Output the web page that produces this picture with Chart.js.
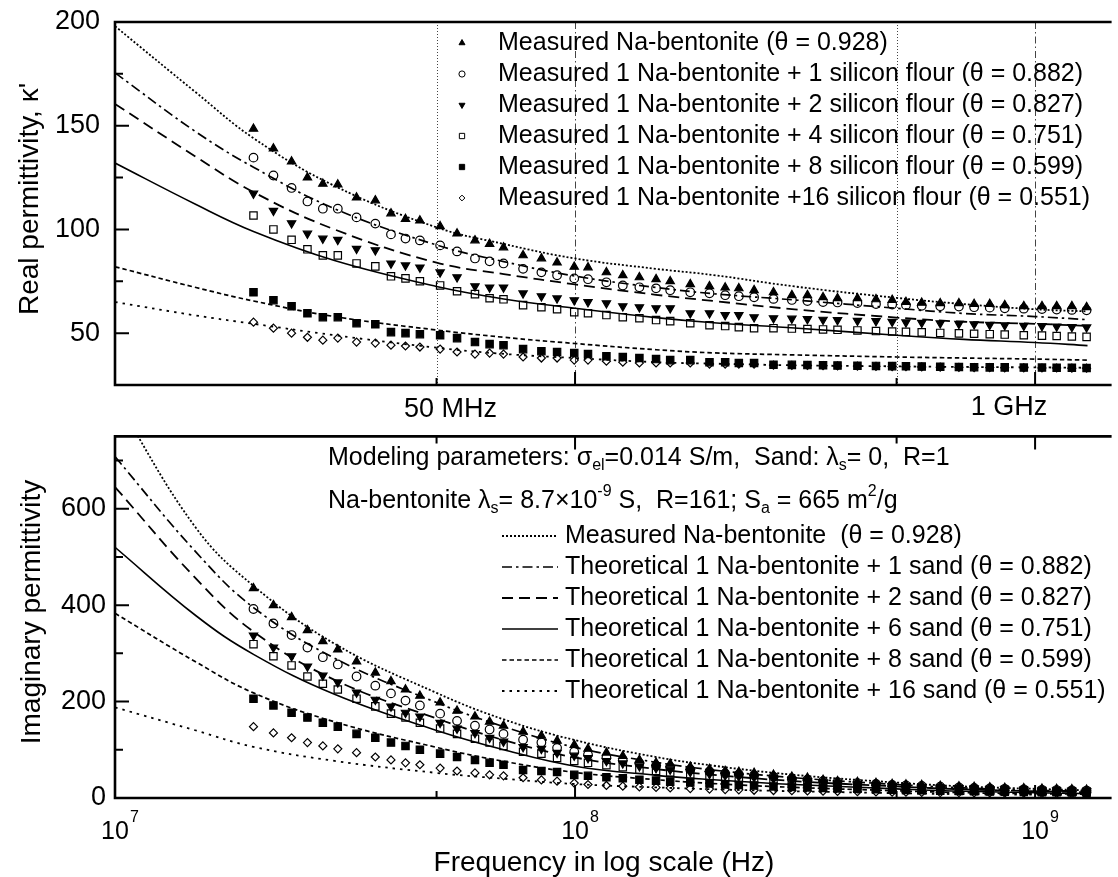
<!DOCTYPE html>
<html>
<head>
<meta charset="utf-8">
<script src="https://cdn.jsdelivr.net/npm/chart.js@4.4.1/dist/chart.umd.min.js"></script>
<style>
  html, body { margin: 0; padding: 0; background: #fff; overflow: hidden; }
  #wrap { position: relative; width: 1118px; height: 877px; }
  canvas { position: absolute; left: 0; }
  #realChart { top: 0; }
  #imagChart { top: 430px; }
</style>
</head>
<body>
<div id="wrap">
  <canvas id="realChart" width="1118" height="430"></canvas>
  <canvas id="imagChart" width="1118" height="447"></canvas>
</div>
<script>
// ─────────────────────────────
// Data
// ─────────────────────────────
// measured frequencies (MHz)
const measFreqMHz = [20, 22.1, 24.2, 26.2, 28.3, 30.5, 33.5, 36.8, 39.8, 42.8, 46, 50.9, 55.4, 60.6, 65.2, 69.9, 77.1, 84.5, 91.4, 99.6,
  106.7, 117, 127, 138, 150, 161, 178, 196, 212, 227, 245, 270, 296, 320, 346, 372, 411, 451, 489, 524,
  567, 622, 683, 737, 797, 859, 945, 1035, 1114, 1202, 1294];
// frequencies of the model curves (MHz)
const theoFreqMHz = [10, 15, 20, 30, 50, 70, 100, 150, 200, 300, 500, 700, 1000, 1300];

// real permittivity, measured
const realMeas0928 = [148.5, 139, 132.7, 125, 122, 121.6, 115.4, 114, 107.7, 105, 104.3, 101.5, 98, 94.7, 93, 91.3, 87.5, 86, 84, 82,
  81.7, 79.3, 77.9, 76.9, 76, 75, 73.6, 72.6, 72, 71.6, 70.7, 69.7, 68.3, 68.3, 67.3, 66.8, 66.8, 66.3, 66, 65,
  64.6, 64.4, 64.4, 64, 64, 63.5, 63, 63, 63, 63, 62.5];
const realMeas0882 = [134.6, 126, 120, 113.5, 110, 110, 105.8, 102.8, 97.6, 95.6, 94.7, 92.3, 89.4, 86, 84.6, 83.6, 81, 79.3, 77.9, 76.4,
  76, 74.5, 73, 72.1, 71.6, 70.7, 69.7, 69.2, 68.3, 67.8, 67.3, 66.5, 66, 65.5, 65, 64.8, 64.5, 64, 63.8, 63.5,
  63.2, 63, 62.8, 62.5, 62.3, 62, 61.8, 61.6, 61.4, 61.2, 61];
const realMeas0827 = [117.3, 109, 103, 98, 95.6, 95, 90.7, 90, 83.6, 82.7, 81.7, 79.3, 77, 72.6, 72, 72, 69.2, 67.8, 66.8, 65.9,
  65, 64.4, 63, 62.5, 62, 62, 59.6, 59.6, 58.7, 58.7, 57.7, 57.2, 57, 56.8, 56.5, 56.3, 56, 55.8, 55.5, 55.2,
  55, 54.8, 54.5, 54.3, 54, 53.8, 53.6, 53.4, 53.2, 53, 52.8];
const realMeas0751 = [106.7, 100, 95, 90.4, 87.5, 87.5, 83.6, 82.2, 77.4, 76.4, 75, 73, 70.2, 68.8, 66.8, 66.3, 63.5, 62.5, 61.5, 60.1,
  59.6, 58.7, 57.7, 57.2, 56.3, 55.8, 54.8, 53.8, 53.4, 52.9, 52.4, 52.4, 52.2, 52, 51.8, 51.6, 51.3, 51, 50.8, 50.6,
  50.4, 50.1, 49.9, 49.7, 49.5, 49.3, 49, 48.8, 48.6, 48.4, 48.2];
const realMeas0599 = [69.7, 65.9, 63, 59.6, 57.7, 57.7, 54.8, 54.3, 50.5, 50, 49.5, 49, 47.6, 45.7, 44.7, 44.2, 42.3, 41.3, 40.9, 40.4,
  39.9, 38.9, 38.5, 38, 37.5, 37, 37, 36, 36, 35.6, 35.6, 34.8, 34.7, 34.6, 34.5, 34.4, 34.3, 34.2, 34.1, 34,
  33.9, 33.8, 33.7, 33.6, 33.5, 33.5, 33.4, 33.4, 33.3, 33.3, 33.2];
const realMeas0551 = [55.3, 52.4, 50, 48, 46.6, 47.6, 45.7, 45.2, 44.2, 43.8, 43.3, 42.3, 40.9, 39.9, 40.4, 39.9, 38.5, 38, 38, 37,
  37, 36.5, 36, 35.6, 35.6, 35.6, 35.6, 35.1, 35.1, 35.1, 35.1, 34.6, 34.5, 34.4, 34.3, 34.2, 34.1, 34, 33.9, 33.8,
  33.7, 33.6, 33.5, 33.4, 33.4, 33.3, 33.3, 33.2, 33.2, 33.1, 33.1];

// real permittivity, model curves
const realTheo0928 = [198, 166, 144, 121, 101, 93, 86, 81, 78, 72.5, 67, 64, 61.5, 60.5];
const realTheo0882 = [175.5, 147, 130, 110, 92.5, 84.5, 77.5, 72, 69, 66, 62, 59.5, 58, 56.5];
const realTheo0827 = [160.5, 135, 118, 100, 84, 78.5, 73.5, 68.5, 65.5, 61.5, 57.5, 55.5, 54.5, 53.5];
const realTheo0751 = [132, 112, 99, 85, 72.5, 66.5, 62, 57.5, 55, 52.5, 49, 47, 45.5, 44];
const realTheo0599 = [82, 72, 65.5, 58, 51.5, 48, 45, 42, 40.5, 39.5, 38.5, 38, 37.5, 37];
const realTheo0551 = [65, 58.5, 54.5, 49, 43, 40, 38, 36, 35.3, 34.5, 34, 33.7, 33.5, 33.3];

// imaginary permittivity, measured
const imagMeas0928 = [435, 400, 375, 348, 325, 308, 283, 260, 242, 225, 212, 198, 181, 169, 158, 150, 137.5, 129, 119, 110,
  102, 94, 87, 79, 73, 71, 65, 60, 56, 54, 52, 48, 44, 42, 37.5, 35, 33, 31, 29, 28,
  27, 25, 24, 23, 22, 21, 20, 19, 18.5, 18, 17];
const imagMeas0882 = [392, 362, 338, 312, 292, 277, 252, 233, 217, 202, 192, 175, 160, 150, 142, 133, 121, 115, 104, 96,
  90, 84, 78, 72, 67, 64, 59, 55, 51, 49, 47, 44, 40, 38, 35, 33, 31, 29, 27, 26,
  25, 23.5, 22, 21, 20, 19, 18, 17, 16.5, 16, 15.5];
const imagMeas0827 = [337, 312, 294, 273, 254, 240, 219, 204, 190, 177, 169, 156, 144, 135, 125, 117, 106, 102, 94, 88,
  83, 77, 72, 66, 62, 59, 54, 50, 47, 45, 43, 40, 37, 35, 32, 30, 28, 26.5, 25, 24,
  23, 21.5, 20.5, 19.5, 18.5, 18, 17, 16, 15.5, 15, 14.5];
const imagMeas0751 = [319, 294, 275, 252, 237, 225, 206, 190, 175, 167, 156, 144, 133, 123, 115, 108, 96, 92, 83, 77,
  73, 68, 64, 59, 56, 53, 49, 45, 43, 41, 39, 36, 33.5, 32, 29.5, 28, 26, 24.5, 23, 22,
  21, 20, 19, 18, 17.5, 17, 16, 15, 14.5, 14, 13.5];
const imagMeas0599 = [206, 192, 177, 167, 156, 148, 133, 125, 115, 108, 100, 92, 85, 79, 73, 69, 58, 56, 54, 48,
  46, 43, 41, 38, 36, 34, 32, 30, 28, 27, 26, 24, 23, 22, 21, 20, 19, 18, 17, 16.5,
  16, 15, 14.5, 14, 13.5, 13, 12.5, 12, 12, 11.5, 11];
const imagMeas0551 = [148, 135, 125, 115, 108, 102, 94, 85, 79, 73, 69, 62, 56, 52, 48, 46, 42, 37.5, 35, 31,
  28, 26, 24.5, 23, 22, 21, 19.5, 18.5, 17.5, 17, 16, 15.5, 15, 14.5, 14, 13.5, 13, 12.5, 12, 12,
  11.5, 11, 11, 10.5, 10.5, 10, 10, 9.5, 9.5, 9, 9];

// imaginary permittivity, model curves
const imagTheo0928 = [830, 560, 440, 320, 218, 163, 120, 85, 67, 48, 32, 24, 19, 16];
const imagTheo0882 = [708, 510, 395, 290, 198, 148, 105, 74, 58, 42, 28, 21, 16, 14];
const imagTheo0827 = [645, 455, 345, 245, 165, 120, 84, 60, 48, 35, 24, 18, 14, 12];
const imagTheo0751 = [520, 378, 298, 215, 140, 100, 66, 47, 38, 28, 19, 14, 11, 9];
const imagTheo0599 = [383, 282, 218, 158, 105, 76, 53, 38, 30, 22, 15, 11, 9, 8];
const imagTheo0551 = [188, 140, 106, 77, 52, 40, 29, 22, 18, 14, 10, 8, 7, 6];

// axes
const xRange = [1e7, 1.4666e9];
const xMajorTicks = [1e7, 1e8, 1e9];
const xMinorTicks = [5e7, 5e8];
const realYRange = [25, 200];
const realYLabels = [50, 100, 150, 200];
const realYMinor = [75, 125, 175];
const imagYRange = [0, 750];
const imagYLabels = [0, 200, 400, 600];
const imagYMinor = [100, 300, 500, 700];

const realLegend = [
  'Measured Na-bentonite (\u03b8 = 0.928)',
  'Measured 1 Na-bentonite + 1 silicon flour (\u03b8 = 0.882)',
  'Measured 1 Na-bentonite + 2 silicon flour (\u03b8 = 0.827)',
  'Measured 1 Na-bentonite + 4 silicon flour (\u03b8 = 0.751)',
  'Measured 1 Na-bentonite + 8 silicon flour (\u03b8 = 0.599)',
  'Measured 1 Na-bentonite +16 silicon flour (\u03b8 = 0.551)'
];
const imagLegend = [
  'Measured Na-bentonite  (\u03b8 = 0.928)',
  'Theoretical 1 Na-bentonite + 1 sand (\u03b8 = 0.882)',
  'Theoretical 1 Na-bentonite + 2 sand (\u03b8 = 0.827)',
  'Theoretical 1 Na-bentonite + 6 sand (\u03b8 = 0.751)',
  'Theoretical 1 Na-bentonite + 8 sand (\u03b8 = 0.599)',
  'Theoretical 1 Na-bentonite + 16 sand (\u03b8 = 0.551)'
];

// ─────────────────────────────
// Styles
// ─────────────────────────────
const FONT = '"Liberation Sans", Arial, sans-serif';
const markers = [
  { style: 'triangle', rot: 0, r: 4.8, fill: true },
  { style: 'circle', rot: 0, r: 4.3, fill: false },
  { style: 'triangle', rot: 180, r: 4.8, fill: true },
  { style: 'rect', rot: 0, r: 5.2, fill: false },
  { style: 'rect', rot: 0, r: 5.2, fill: true },
  { style: 'rectRot', rot: 0, r: 4, fill: false }
];
const dashes = [[2, 2], [10, 4, 2.5, 4], [11, 6], [], [4.5, 3], [2.5, 5]];
const widths = [1.8, 1.7, 1.8, 1.6, 1.7, 1.8];

const hz = f => f * 1e6;
const toPoints = (freqs, vals) => vals.map((v, i) => ({ x: hz(freqs[i]), y: v }));

function buildDatasets(meas, theo) {
  const sets = [];
  theo.forEach((vals, i) => {
    sets.push({
      data: toPoints(theoFreqMHz, vals),
      showLine: true,
      borderColor: '#000',
      borderWidth: widths[i],
      borderDash: dashes[i],
      pointRadius: 0,
      tension: 0.4,
      fill: false
    });
  });
  meas.forEach((vals, i) => {
    const m = markers[i];
    sets.push({
      data: toPoints(measFreqMHz, vals),
      showLine: false,
      pointStyle: m.style,
      rotation: m.rot,
      pointRadius: m.r,
      pointBorderWidth: 1.2,
      pointBorderColor: '#000',
      pointBackgroundColor: m.fill ? '#000' : 'rgba(0,0,0,0)'
    });
  });
  return sets;
}

// ─────────────────────────────
// Drawing helpers
// ─────────────────────────────
function drawMarker(ctx, m, x, y, r) {
  ctx.save();
  ctx.beginPath();
  if (m.style === 'circle') {
    ctx.arc(x, y, r, 0, Math.PI * 2);
  } else if (m.style === 'triangle') {
    let a = m.rot * Math.PI / 180;
    ctx.moveTo(x + Math.sin(a) * r, y - Math.cos(a) * r);
    for (let k = 1; k < 3; k++) {
      a += Math.PI * 2 / 3;
      ctx.lineTo(x + Math.sin(a) * r, y - Math.cos(a) * r);
    }
    ctx.closePath();
  } else if (m.style === 'rect') {
    const s = Math.SQRT1_2 * r;
    ctx.rect(x - s, y - s, 2 * s, 2 * s);
  } else {
    ctx.moveTo(x - r, y); ctx.lineTo(x, y - r); ctx.lineTo(x + r, y); ctx.lineTo(x, y + r);
    ctx.closePath();
  }
  ctx.fillStyle = '#000';
  ctx.strokeStyle = '#000';
  ctx.lineWidth = 1;
  if (m.fill) ctx.fill();
  ctx.stroke();
  ctx.restore();
}

function txt(ctx, s, x, y, size, align) {
  ctx.font = size + 'px ' + FONT;
  ctx.fillStyle = '#000';
  ctx.textAlign = align || 'left';
  ctx.textBaseline = 'middle';
  ctx.fillText(s, x, y);
}

// parts: [text, 'n' | 'sub' | 'sup']
function richTxt(ctx, parts, x, y, size) {
  let cx = x;
  ctx.fillStyle = '#000';
  ctx.textAlign = 'left';
  ctx.textBaseline = 'middle';
  parts.forEach(([s, kind]) => {
    const fs = kind === 'n' ? size : Math.round(size * 0.62);
    const dy = kind === 'sub' ? size * 0.32 : kind === 'sup' ? -size * 0.36 : 0;
    ctx.font = fs + 'px ' + FONT;
    ctx.fillText(s, cx, y + dy);
    cx += ctx.measureText(s).width;
  });
}

function vtitle(ctx, s, x, y, size) {
  ctx.save();
  ctx.translate(x, y);
  ctx.rotate(-Math.PI / 2);
  txt(ctx, s, 0, 0, size, 'center');
  ctx.restore();
}

function frameAndTicks(chart, yLabels, yMinor, opts) {
  const { ctx, chartArea: a, scales } = chart;
  const xs = scales.x, ys = scales.y;
  ctx.save();
  ctx.strokeStyle = '#000';
  ctx.lineWidth = 2.6;
  ctx.beginPath();
  ctx.moveTo(a.left, a.top); ctx.lineTo(a.right, a.top);
  ctx.moveTo(a.left, a.top - 1.3); ctx.lineTo(a.left, a.bottom + 1.3);
  ctx.moveTo(a.left, a.bottom); ctx.lineTo(a.right, a.bottom);
  ctx.stroke();

  ctx.lineWidth = 2;
  ctx.beginPath();
  yLabels.forEach(v => {
    const py = ys.getPixelForValue(v);
    ctx.moveTo(a.left, py); ctx.lineTo(a.left + 14, py);
  });
  yMinor.forEach(v => {
    const py = ys.getPixelForValue(v);
    ctx.moveTo(a.left, py); ctx.lineTo(a.left + 8, py);
  });
  xMajorTicks.concat(xMinorTicks).forEach(v => {
    if (v <= xRange[0]) return;
    const px = xs.getPixelForValue(v);
    const len = xMajorTicks.includes(v) ? 13 : 7;
    ctx.moveTo(px, a.bottom); ctx.lineTo(px, a.bottom - len);
    if (opts.topTicks) { ctx.moveTo(px, a.top); ctx.lineTo(px, a.top + len); }
  });
  ctx.stroke();
  ctx.restore();

  yLabels.forEach(v => txt(ctx, String(v), opts.labelRight, ys.getPixelForValue(v), 27, 'right'));
}

function baseOptions(yRange, pad) {
  return {
    responsive: false,
    animation: false,
    events: [],
    layout: { padding: pad },
    plugins: { legend: { display: false }, tooltip: { enabled: false } },
    scales: {
      x: { type: 'logarithmic', min: xRange[0], max: xRange[1], display: false },
      y: { type: 'linear', min: yRange[0], max: yRange[1], display: false }
    }
  };
}

// ─────────────────────────────
// Real permittivity panel
// ─────────────────────────────
const realDecor = {
  id: 'realDecor',
  beforeDatasetsDraw(chart) {
    const { ctx, chartArea: a, scales } = chart;
    const refLines = [[5e7, [1, 2]], [1e8, [7, 3, 1.5, 3]], [5e8, [1, 2]], [1e9, [7, 3, 1.5, 3]]];
    ctx.save();
    ctx.strokeStyle = '#444';
    ctx.lineWidth = 1;
    refLines.forEach(([v, d]) => {
      const px = Math.round(scales.x.getPixelForValue(v)) + 0.5;
      ctx.setLineDash(d);
      ctx.beginPath();
      ctx.moveTo(px, a.top); ctx.lineTo(px, a.bottom);
      ctx.stroke();
    });
    ctx.restore();
  },
  afterDraw(chart) {
    const { ctx, scales } = chart;
    frameAndTicks(chart, realYLabels, realYMinor, { labelRight: 100, topTicks: false });
    realLegend.forEach((s, i) => {
      const y = 43 + 31 * i;
      drawMarker(ctx, markers[i], 462, y, markers[i].r * 0.72);
      txt(ctx, s, 498, y, 25);
    });
    txt(ctx, '50 MHz', scales.x.getPixelForValue(5e7) + 14, 410, 27, 'center');
    txt(ctx, '1 GHz', scales.x.getPixelForValue(1e9) - 26, 408, 27, 'center');
    vtitle(ctx, 'Real permittivity, \u03ba\'', 30, 199, 28);
  }
};

new Chart(document.getElementById('realChart'), {
  type: 'scatter',
  data: {
    datasets: buildDatasets(
      [realMeas0928, realMeas0882, realMeas0827, realMeas0751, realMeas0599, realMeas0551],
      [realTheo0928, realTheo0882, realTheo0827, realTheo0751, realTheo0599, realTheo0551])
  },
  options: baseOptions(realYRange, { top: 22, bottom: 45, left: 115, right: 0 }),
  plugins: [realDecor]
});

// ─────────────────────────────
// Imaginary permittivity panel
// ─────────────────────────────
const imagDecor = {
  id: 'imagDecor',
  afterDraw(chart) {
    const { ctx, chartArea: a, scales } = chart;
    frameAndTicks(chart, imagYLabels, imagYMinor, { labelRight: 106, topTicks: true });

    richTxt(ctx, [['Modeling parameters: \u03c3', 'n'], ['el', 'sub'], ['=0.014 S/m,  Sand: \u03bb', 'n'],
      ['s', 'sub'], ['= 0,  R=1', 'n']], 328, 28, 25);
    richTxt(ctx, [['Na-bentonite \u03bb', 'n'], ['s', 'sub'], ['= 8.7\u00d710', 'n'], ['-9', 'sup'],
      [' S,  R=161; S', 'n'], ['a', 'sub'], [' = 665 m', 'n'], ['2', 'sup'], ['/g', 'n']], 328, 71, 25);

    imagLegend.forEach((s, i) => {
      const y = 106 + 31 * i;
      ctx.save();
      ctx.strokeStyle = '#000';
      ctx.lineWidth = widths[i];
      ctx.setLineDash(dashes[i]);
      ctx.beginPath();
      ctx.moveTo(502, y); ctx.lineTo(558, y);
      ctx.stroke();
      ctx.restore();
      txt(ctx, s, 565, y, 25);
    });

    xMajorTicks.forEach(v => {
      const px = scales.x.getPixelForValue(v);
      const y = a.bottom + 34;
      txt(ctx, '10', px, y, 25, 'center');
      txt(ctx, String(Math.round(Math.log10(v))), px + 15, y - 14, 16, 'left');
    });
    txt(ctx, 'Frequency in log scale (Hz)', 604, a.bottom + 65, 28, 'center');
    vtitle(ctx, 'Imaginary permittivity', 32, 182, 28);
  }
};

new Chart(document.getElementById('imagChart'), {
  type: 'scatter',
  data: {
    datasets: buildDatasets(
      [imagMeas0928, imagMeas0882, imagMeas0827, imagMeas0751, imagMeas0599, imagMeas0551],
      [imagTheo0928, imagTheo0882, imagTheo0827, imagTheo0751, imagTheo0599, imagTheo0551])
  },
  options: baseOptions(imagYRange, { top: 6, bottom: 79, left: 115, right: 0 }),
  plugins: [imagDecor]
});
</script>
</body>
</html>
